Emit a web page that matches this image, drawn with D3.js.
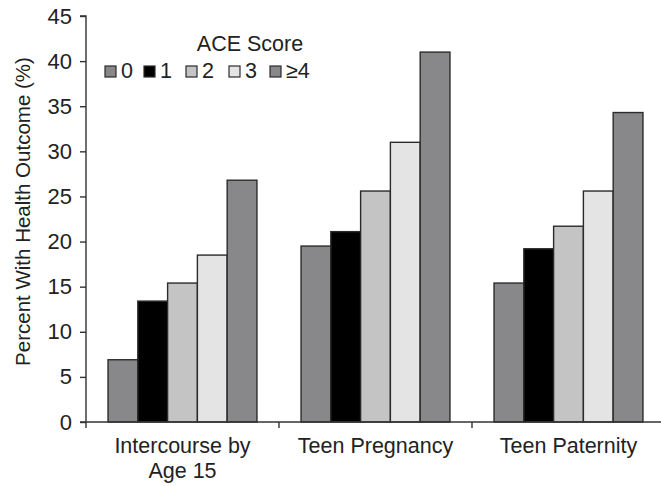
<!DOCTYPE html>
<html><head><meta charset="utf-8">
<script src="https://cdn.jsdelivr.net/npm/d3@7"></script>
<style>
body{margin:0;background:#fff;}
text{font-family:"Liberation Sans",Arial,Helvetica,sans-serif;fill:#222;}
</style></head>
<body><svg id="c" width="661" height="486"></svg>
<script>
const categories = [["Intercourse by","Age 15"],["Teen Pregnancy"],["Teen Paternity"]];
const seriesNames = ["0","1","2","3","\u22654"];
const seriesColors = ["#88888a","#000000","#c4c4c4","#e4e4e4","#88888a"];
const ace0 = [6.9, 19.5, 15.4];
const ace1 = [13.4, 21.1, 19.2];
const ace2 = [15.4, 25.6, 21.7];
const ace3 = [18.5, 31.0, 25.6];
const ace4 = [26.8, 41.0, 34.3];
const series = [ace0, ace1, ace2, ace3, ace4];
const yTicks = [0,5,10,15,20,25,30,35,40,45];

const svg = d3.select("#c");
const m = {left:86, top:16, right:665, bottom:422};
const x0 = d3.scaleBand().domain(d3.range(categories.length)).range([m.left, m.right]).paddingInner(0).paddingOuter(0);
const x1 = d3.scaleBand().domain(d3.range(series.length)).range([0, x0.bandwidth()]).paddingOuter(0.74).paddingInner(0);
const y = d3.scaleLinear().domain([0,45]).range([m.bottom, m.top]);

// bars
series.forEach((s,si)=>{
  svg.append("g").selectAll("rect").data(s).join("rect")
    .attr("x",(d,i)=>x0(i)+x1(si))
    .attr("y",d=>y(d))
    .attr("width",x1.bandwidth())
    .attr("height",d=>y(0)-y(d))
    .attr("fill",seriesColors[si])
    .attr("stroke","#2b2b2b").attr("stroke-width",1.4);
});

// y axis
const ya = svg.append("g").attr("transform",`translate(${m.left},0)`)
  .call(d3.axisLeft(y).tickValues(yTicks).tickSize(6).tickPadding(8));
ya.select(".domain").attr("stroke","#333").attr("stroke-width",1.4).attr("d",`M-6,${y(45)}H0V${y(0)}`);
ya.selectAll(".tick line").attr("stroke","#333").attr("stroke-width",1.4);
ya.selectAll(".tick text").style("font-size","22px").attr("fill","#222");

// x axis
const xa = svg.append("g").attr("transform",`translate(0,${m.bottom})`);
xa.append("line").attr("x1",m.left-6).attr("x2",m.right).attr("y1",0).attr("y2",0).attr("stroke","#333").attr("stroke-width",1.4);
xa.selectAll("line.t").data(d3.range(categories.length)).join("line").attr("class","t")
  .attr("x1",i=>x0(i)).attr("x2",i=>x0(i)).attr("y1",0).attr("y2",6).attr("stroke","#333").attr("stroke-width",1.4);
const lab = xa.selectAll("text.c").data(categories).join("text").attr("class","c")
  .attr("text-anchor","middle").style("font-size","21.5px")
  .attr("transform",(d,i)=>`translate(${x0(i)+x0.bandwidth()/2},31)`);
lab.selectAll("tspan").data(d=>d).join("tspan").attr("x",0).attr("dy",(d,i)=>i===0?0:25).text(d=>d);

// y label
svg.append("text").attr("transform",`translate(30,${(57+366)/2}) rotate(-90)`)
  .attr("text-anchor","middle").style("font-size","20.5px").text("Percent With Health Outcome (%)");

// legend
svg.append("text").attr("x",250).attr("y",51).attr("text-anchor","middle").style("font-size","21.5px").text("ACE Score");
const legX = [105,144,186,229,270];
const lg = svg.append("g").selectAll("g").data(seriesNames).join("g")
  .attr("transform",(d,i)=>`translate(${legX[i]},66)`);
lg.append("rect").attr("width",11).attr("height",11).attr("fill",(d,i)=>seriesColors[i]).attr("stroke","#2b2b2b").attr("stroke-width",1.2);
lg.append("text").attr("x",16).attr("y",11.5).style("font-size","21.5px").text(d=>d);
</script></body></html>
